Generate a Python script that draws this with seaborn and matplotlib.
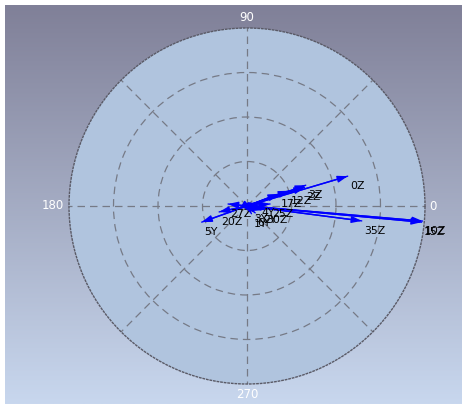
import numpy as np
import pandas as pd
import matplotlib
matplotlib.use("Agg")
import matplotlib.pyplot as plt
import seaborn as sns

# Phasor components: name, magnitude (fraction of full scale), angle in degrees
names = ["0Z", "3Z", "2Z", "12Z", "17Z", "10Z", "15Z", "35Z", "25Z", "30Z",
         "5Y", "20Z", "27Z", "1Y", "2Y", "3Y", "4Y", "6Y"]
magnitudes = [0.59, 0.35, 0.34, 0.25, 0.19, 0.99, 0.985, 0.65, 0.13, 0.10,
              0.27, 0.16, 0.107, 0.05, 0.082, 0.035, 0.07, 0.06]
angles_deg = [16.5, 19.5, 18.0, 20.0, 21.0, 355.1, 354.7, 352.6, 5.0, 348.0,
              199.6, 192.0, 174.0, 300.0, 344.0, 330.0, 12.0, 320.0]

theta_ticks = [0, 45, 90, 135, 180, 225, 270, 315]
angle_labels = ["0", "90", "180", "270"]
ring_levels = [0.25, 0.5, 0.75]

sns.set_style("white")
plt.rcParams["font.family"] = ["DejaVu Sans"]

W, H = 468, 407
fig = plt.figure(figsize=(W / 100, H / 100), dpi=100, facecolor="white")

# vertical gradient backdrop
bg = fig.add_axes([5 / W, 3 / H, 457 / W, 399 / H], zorder=-10)
top = np.array([128, 128, 152]) / 255
bot = np.array([200, 215, 238]) / 255
t = np.linspace(0, 1, 256)[:, None]
grad = (top[None, :] * (1 - t) + bot[None, :] * t)[:, None, :]
bg.imshow(grad, aspect="auto", extent=[0, 1, 0, 1], interpolation="bilinear")
bg.set_axis_off()

ax = fig.add_axes([69 / W, 23 / H, 356 / W, 356 / H], projection="polar")
ax.set_facecolor("#b0c4de")
ax.set_ylim(0, 1)
ax.set_yticks(ring_levels)
ax.set_yticklabels([])
ax.set_xticks(np.deg2rad(theta_ticks))
ax.set_xticklabels([])
ax.grid(True, color="#767a86", linestyle=(0, (6, 4)), linewidth=0.9)
ax.spines["polar"].set_linestyle((0, (1, 1.6)))
ax.spines["polar"].set_color("#5a5a66")
ax.spines["polar"].set_linewidth(1.0)

# cardinal angle labels just outside the rim
label_place = {"0": ((3, 0), "left", "center"),
               "90": ((0, 3), "center", "bottom"),
               "180": ((-4, 0), "right", "center"),
               "270": ((0, -3), "center", "top")}
for lab in angle_labels:
    off, ha, va = label_place[lab]
    ax.annotate(lab, xy=(np.deg2rad(float(lab)), 1.0), xytext=off,
                textcoords="offset points", ha=ha, va=va,
                color="white", fontsize=8.5, annotation_clip=False)

theta = np.deg2rad(angles_deg)
rows = []
for n, m, a in zip(names, magnitudes, theta):
    rows.append({"label": n, "theta": a, "r": 0.0})
    rows.append({"label": n, "theta": a, "r": m})
df = pd.DataFrame(rows)

sns.lineplot(data=df, x="theta", y="r", units="label", estimator=None,
             sort=False, color="#0000ff", linewidth=1.0, ax=ax, legend=False)
ax.set_xlabel("")
ax.set_ylabel("")

for n, m, a in zip(names, magnitudes, theta):
    ax.annotate("", xy=(a, m), xytext=(a, 0),
                arrowprops=dict(arrowstyle="-|>,head_length=0.6,head_width=0.2",
                                color="#0000ff", lw=1.0, shrinkA=0, shrinkB=0,
                                mutation_scale=10))
    ax.annotate(n, xy=(a, m), xytext=(1.5, -3.5), textcoords="offset points",
                ha="left", va="top", fontsize=7.8, color="black")

ax.set_ylim(0, 1)
fig.savefig("out.png", dpi=100, facecolor="white")
